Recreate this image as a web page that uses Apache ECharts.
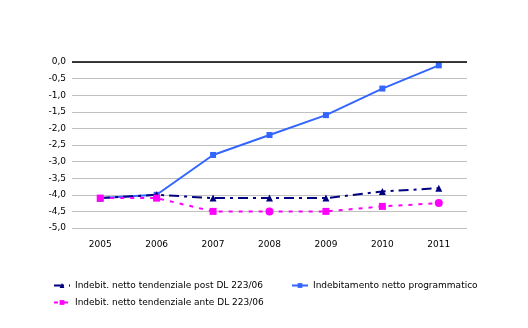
<!DOCTYPE html>
<html>
<head>
<meta charset="utf-8">
<script src="https://cdn.jsdelivr.net/npm/echarts@6/dist/echarts.min.js"></script>
<style>
  html, body { margin: 0; padding: 0; background: #fff; }
  #chart { width: 528px; height: 328px; }
</style>
</head>
<body>
<div id="chart"></div>
<script>
// Years on the category axis
const years = ['2005', '2006', '2007', '2008', '2009', '2010', '2011'];

// Net borrowing, % of GDP
const postDL = [-4.1, -4.0, -4.1, -4.1, -4.1, -3.9, -3.8];
const anteDL = [-4.1, -4.1, -4.5, -4.5, -4.5, -4.35, -4.25];
const programmatico = [-4.1, -4.0, -2.8, -2.2, -1.6, -0.8, -0.1];

// Y tick values
const yTicks = [0, -0.5, -1, -1.5, -2, -2.5, -3, -3.5, -4, -4.5, -5];

const nameNavy = 'Indebit. netto tendenziale post DL 223/06';
const nameBlue = 'Indebitamento netto programmatico';
const namePink = 'Indebit. netto tendenziale ante DL 223/06';

const font = 'DejaVu Sans, Verdana, sans-serif';
const fmt = v => v.toFixed(1).replace('.', ',');

const pinkSymbols = ['rect', 'rect', 'rect', 'circle', 'rect', 'rect', 'circle'];

const chart = echarts.init(document.getElementById('chart'), null, { renderer: 'canvas' });

const legendBase = {
  itemWidth: 16, itemHeight: 6, itemGap: 10,
  textStyle: { fontFamily: font, fontSize: 9, color: '#000' }
};

chart.setOption({
  animation: false,
  backgroundColor: '#fff',
  grid: { left: 72, right: 61, top: 62, bottom: 100 },
  legend: [
    Object.assign({ data: [nameNavy], left: 48, top: 276 }, legendBase),
    Object.assign({ data: [nameBlue], left: 286, top: 276 }, legendBase),
    Object.assign({ data: [namePink], left: 48, top: 293 }, legendBase)
  ],
  xAxis: {
    type: 'category',
    data: years,
    boundaryGap: true,
    position: 'bottom',
    axisLine: { show: false },
    axisTick: { show: false },
    axisLabel: { fontFamily: font, fontSize: 9, color: '#000', margin: 12 }
  },
  yAxis: {
    type: 'value',
    min: -5, max: 0, interval: 0.5,
    axisLine: { show: false },
    axisTick: { show: false },
    axisLabel: { fontFamily: font, fontSize: 9, color: '#000', margin: 6, formatter: v => fmt(v) },
    splitLine: { lineStyle: { color: '#c0c0c0', width: 1 } }
  },
  series: [
    {
      name: nameNavy,
      type: 'line',
      data: postDL,
      color: '#000080',
      symbol: 'triangle',
      symbolSize: 7,
      lineStyle: { color: '#000080', width: 2, type: [10, 5, 3, 5] },
      itemStyle: { color: '#000080' },
      z: 3,
      markLine: {
        silent: true,
        symbol: 'none',
        label: { show: false },
        lineStyle: { color: '#000', width: 1.5, type: 'solid' },
        data: [{ yAxis: 0 }]
      }
    },
    {
      name: nameBlue,
      type: 'line',
      data: programmatico,
      color: '#3366ff',
      symbol: 'rect',
      symbolSize: 6,
      lineStyle: { color: '#3366ff', width: 2 },
      itemStyle: { color: '#3366ff' },
      z: 2
    },
    {
      name: namePink,
      type: 'line',
      data: anteDL.map((v, i) => ({ value: v, symbol: pinkSymbols[i], symbolSize: pinkSymbols[i] === 'circle' ? 8 : 7 })),
      color: '#ff00ff',
      symbol: 'rect',
      symbolSize: 7,
      lineStyle: { color: '#ff00ff', width: 2, type: [4, 6] },
      itemStyle: { color: '#ff00ff' },
      z: 4
    }
  ]
});
</script>
</body>
</html>
